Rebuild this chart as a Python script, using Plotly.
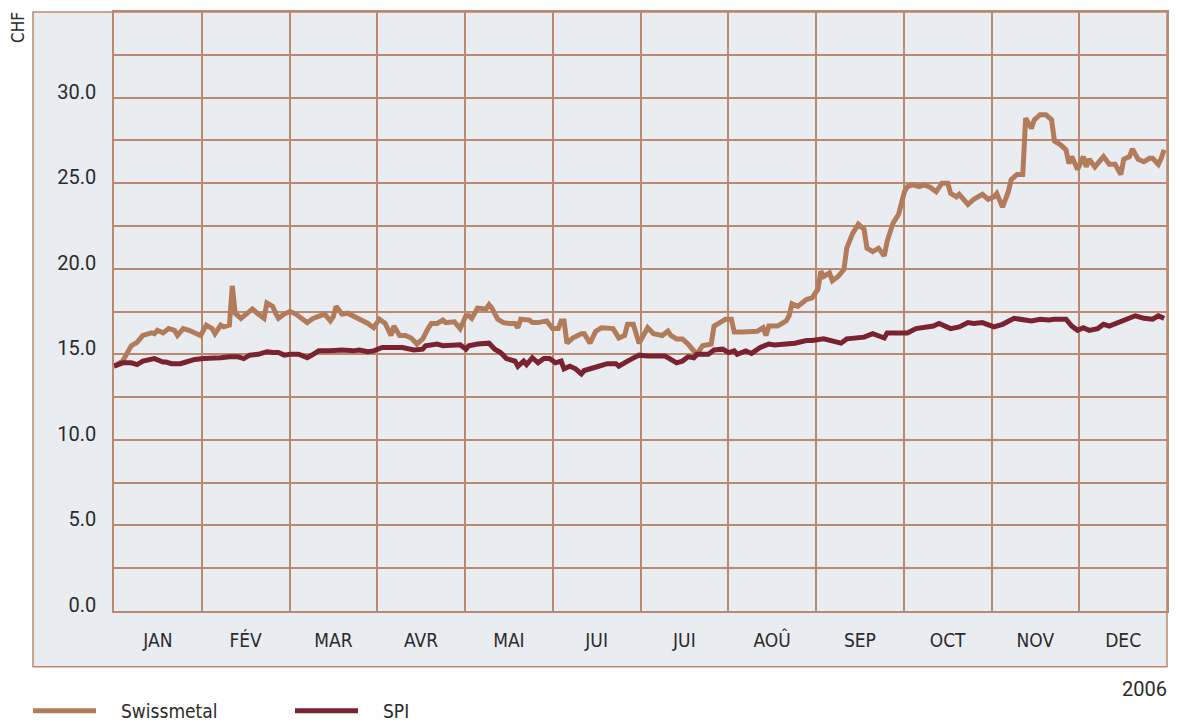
import plotly.graph_objects as go

# ---- data (day offset from 1 Jan 2006, value in CHF) ----
swiss_days = [0, 3, 5, 6, 8, 10, 13, 14, 15, 17, 19, 21, 22, 24, 26, 30, 32, 34, 35, 37, 38, 40, 41, 42, 44, 46,
              48, 50, 52, 53, 55, 56, 57, 59, 61, 63, 65, 67, 69, 71, 73, 75, 76, 77, 79, 81, 83, 85, 86, 88, 90,
              92, 94, 96, 97, 99, 101, 103, 105, 107, 109, 110, 112, 114, 115, 117, 118, 120, 122, 123, 124, 126,
              128, 129, 130, 131, 133, 135, 137, 139, 140, 141, 144, 145, 147, 149, 150, 152, 154, 155, 156, 157,
              159, 162, 163, 165, 167, 169, 171, 173, 175, 177, 178, 180, 182, 183, 185, 187, 189, 190, 192, 193,
              195, 197, 199, 200, 202, 204, 206, 207, 208, 210, 212, 214, 215, 218, 221, 223, 225, 226, 227, 230,
              233, 234, 235, 237, 240, 242, 244, 245, 246, 248, 249, 251, 253, 254, 256, 258, 260, 261, 263, 265,
              267, 268, 270, 272, 274, 275, 277, 279, 281, 283, 285, 286, 287, 289, 290, 292, 293, 295, 296, 298,
              300, 301, 303, 305, 306, 308, 310, 311, 313, 315, 316, 318, 319, 321, 323, 325, 326, 328, 330, 331,
              332, 334, 336, 337, 338, 340, 343, 345, 347, 349, 350, 352, 353, 355, 357, 359, 360, 362, 363, 364]
swiss_vals = [14.3, 14.6, 15.2, 15.5, 15.7, 16.1, 16.25, 16.2, 16.4, 16.25, 16.5, 16.4, 16.1, 16.5, 16.4, 16.1,
              16.7, 16.5, 16.2, 16.7, 16.6, 16.7, 19.0, 17.4, 17.1, 17.35, 17.65, 17.35, 17.1, 18.0, 17.8, 17.4,
              17.1, 17.35, 17.5, 17.35, 17.1, 16.85, 17.1, 17.2, 17.35, 16.95, 17.2, 17.8, 17.35, 17.4, 17.25,
              17.05, 17.0, 16.8, 16.55, 17.05, 16.8, 16.1, 16.65, 16.1, 16.1, 15.95, 15.6, 15.9, 16.55, 16.8, 16.8,
              17.0, 16.85, 16.85, 16.9, 16.5, 17.25, 17.25, 17.1, 17.7, 17.65, 17.65, 17.9, 17.7, 17.05, 16.85,
              16.8, 16.8, 16.55, 17.05, 17.0, 16.85, 16.85, 16.95, 16.95, 16.5, 16.5, 16.95, 16.95, 15.65, 15.95,
              16.2, 16.2, 15.65, 16.35, 16.55, 16.5, 16.5, 15.95, 16.1, 16.75, 16.75, 15.65, 15.95, 16.55, 16.2,
              16.1, 16.1, 16.35, 16.1, 15.9, 15.9, 15.6, 15.4, 15.0, 15.5, 15.6, 15.6, 16.65, 16.85, 17.05, 17.05,
              16.3, 16.3, 16.3, 16.35, 16.55, 16.1, 16.65, 16.65, 16.95, 17.25, 17.95, 17.8, 18.2, 18.3, 18.8,
              19.85, 19.55, 19.75, 19.3, 19.55, 19.95, 21.2, 22.05, 22.6, 22.3, 21.2, 21.0, 21.2, 20.75, 21.6,
              22.65, 23.2, 24.5, 24.8, 24.9, 24.8, 24.9, 24.75, 24.5, 24.7, 25.0, 25.0, 24.4, 24.2, 24.35, 23.95,
              23.75, 24.05, 24.2, 24.35, 24.05, 24.2, 24.4, 23.6, 24.5, 25.2, 25.5, 25.5, 28.8, 28.2, 28.7, 29.0,
              29.0, 28.7, 27.45, 27.25, 26.95, 26.15, 26.55, 25.8, 26.55, 25.95, 26.4, 25.95, 26.55, 26.1, 26.1,
              25.5, 26.4, 26.55, 27.0, 26.4, 26.25, 26.45, 26.45, 26.1, 26.45, 26.95]

spi_days = [0, 3, 6, 8, 10, 14, 17, 18, 20, 23, 25, 28, 31, 33, 37, 40, 43, 45, 47, 50, 53, 55, 57, 59, 61, 64,
            67, 69, 71, 75, 79, 83, 85, 88, 90, 93, 97, 100, 104, 107, 108, 112, 114, 117, 120, 122, 123, 126,
            128, 130, 132, 134, 136, 138, 139, 140, 142, 143, 145, 147, 149, 151, 153, 155, 156, 158, 160, 162,
            163, 166, 168, 171, 174, 175, 178, 180, 182, 185, 188, 191, 193, 195, 197, 199, 201, 202, 206, 208,
            211, 213, 215, 216, 219, 221, 224, 227, 229, 233, 236, 240, 242, 246, 249, 252, 254, 258, 260, 263,
            267, 268, 271, 275, 278, 281, 284, 286, 290, 293, 296, 298, 301, 305, 308, 312, 315, 318, 321, 324,
            326, 330, 332, 334, 336, 338, 341, 343, 345, 348, 351, 354, 357, 360, 362, 364]
spi_vals = [14.3, 14.5, 14.5, 14.4, 14.6, 14.75, 14.55, 14.55, 14.45, 14.45, 14.55, 14.7, 14.75, 14.75, 14.8,
            14.85, 14.85, 14.75, 14.95, 15.0, 15.15, 15.1, 15.1, 14.95, 15.0, 15.0, 14.8, 15.0, 15.2, 15.2, 15.25,
            15.2, 15.25, 15.15, 15.2, 15.4, 15.4, 15.4, 15.25, 15.3, 15.5, 15.6, 15.5, 15.55, 15.55, 15.3, 15.5,
            15.6, 15.65, 15.65, 15.3, 15.1, 14.75, 14.6, 14.6, 14.3, 14.6, 14.4, 14.8, 14.5, 14.75, 14.75, 14.5,
            14.6, 14.15, 14.3, 14.15, 13.85, 14.05, 14.2, 14.3, 14.45, 14.45, 14.3, 14.6, 14.8, 14.95, 14.9, 14.9,
            14.9, 14.7, 14.5, 14.6, 14.85, 14.8, 15.0, 15.0, 15.25, 15.3, 15.1, 15.2, 15.0, 15.2, 15.05, 15.4,
            15.6, 15.55, 15.6, 15.65, 15.8, 15.8, 15.9, 15.8, 15.65, 15.9, 15.95, 16.0, 16.2, 15.95, 16.25, 16.25,
            16.25, 16.5, 16.55, 16.65, 16.8, 16.5, 16.6, 16.85, 16.8, 16.85, 16.6, 16.75, 17.1, 17.0, 16.95,
            17.05, 17.0, 17.05, 17.05, 16.65, 16.4, 16.55, 16.4, 16.5, 16.75, 16.65, 16.85, 17.1, 17.25, 17.1,
            17.05, 17.25, 17.1]

month_labels = ["JAN", "FÉV", "MAR", "AVR", "MAI", "JUI", "JUI", "AOÛ", "SEP", "OCT", "NOV", "DEC"]
y_ticks = [0, 5, 10, 15, 20, 25, 30]
y_minor = [2.5, 7.5, 12.5, 17.5, 22.5, 27.5, 32.5]
series_names = ["Swissmetal", "SPI"]
year_label = "2006"
unit_label = "CHF"
YEAR_DAYS = 365

# ---- style ----
BG = "#e9ecf1"
GRID = "#ba8a70"
C_SWISS = "#b27c5b"
C_SPI = "#7b2230"
TXT = "#2b2b2b"
NARROW = "Liberation Sans Narrow, Arial Narrow, DejaVu Sans Condensed, Roboto, sans-serif"
NUMF = "Roboto, Liberation Sans, sans-serif"

# the chart divides the year into 12 equal month slots
slot = YEAR_DAYS / 12
month_mid = [(i + 0.5) * slot for i in range(12)]

fig = go.Figure()
fig.add_trace(go.Scatter(x=swiss_days, y=swiss_vals, mode="lines", name=series_names[0],
                         line=dict(color=C_SWISS, width=5), showlegend=False))
fig.add_trace(go.Scatter(x=spi_days, y=spi_vals, mode="lines", name=series_names[1],
                         line=dict(color=C_SPI, width=5), showlegend=False))

# page body has an 8px margin: work in window pixels, convert to figure pixels
OFF = 8
W, H = 1181 - OFF, 722 - OFF
L, R, T, B = 114 - OFF, 1167 - OFF, 10 - OFF, 611 - OFF
pw, ph = R - L, B - T


def px(x):
    return (x - OFF - L) / pw


def py(y):
    return (B - (y - OFF)) / ph


fig.update_layout(
    width=W, height=H,
    margin=dict(l=L, r=W - R, t=T, b=H - B),
    paper_bgcolor="white",
    plot_bgcolor="rgba(0,0,0,0)",
    showlegend=False,
    xaxis=dict(
        range=[0, YEAR_DAYS],
        tickmode="array", tickvals=month_mid, ticktext=month_labels,
        showgrid=False, ticks="", zeroline=False,
        showline=True, linecolor=GRID, linewidth=1.5, mirror=True,
        tickfont=dict(family=NARROW, size=19, color=TXT),
        ticklabelstandoff=11,
        minor=dict(tickmode="linear", tick0=0, dtick=slot, showgrid=True,
                   gridcolor=GRID, gridwidth=1.5, ticks=""),
    ),
    yaxis=dict(
        range=[0, 35],
        tickmode="array", tickvals=y_ticks, ticktext=[f"{v:.1f}" for v in y_ticks],
        showgrid=True, gridcolor=GRID, gridwidth=1.5, ticks="", zeroline=False,
        showline=True, linecolor=GRID, linewidth=1.5, mirror=True,
        tickfont=dict(family=NUMF, size=20, color=TXT),
        ticklabelstandoff=12, ticklabelshift=-6,
        minor=dict(tickmode="array", tickvals=y_minor, showgrid=True,
                   gridcolor=GRID, gridwidth=1.5, ticks=""),
    ),
)

# frame background
fig.add_shape(type="rect", xref="paper", yref="paper",
              x0=px(33), x1=1, y0=py(667), y1=1,
              fillcolor=BG, line=dict(color=GRID, width=1.5), layer="below")

# legend (custom)
fig.add_shape(type="line", xref="paper", yref="paper", x0=px(33), x1=px(96), y0=py(711), y1=py(711),
              line=dict(color=C_SWISS, width=5))
fig.add_shape(type="line", xref="paper", yref="paper", x0=px(295), x1=px(358), y0=py(711), y1=py(711),
              line=dict(color=C_SPI, width=5))
fig.add_annotation(xref="paper", yref="paper", x=px(119), y=py(711), text=series_names[0],
                   showarrow=False, xanchor="left", yanchor="middle",
                   font=dict(family=NARROW, size=19, color=TXT))
fig.add_annotation(xref="paper", yref="paper", x=px(381), y=py(711), text=series_names[1],
                   showarrow=False, xanchor="left", yanchor="middle",
                   font=dict(family=NARROW, size=19, color=TXT))
fig.add_annotation(xref="paper", yref="paper", x=1, y=py(689), text=year_label,
                   showarrow=False, xanchor="right", yanchor="middle", xshift=2,
                   font=dict(family=NUMF, size=20, color=TXT))
fig.add_annotation(xref="paper", yref="paper", x=px(18), y=py(26), text=unit_label,
                   showarrow=False, textangle=-90, xanchor="center", yanchor="middle",
                   font=dict(family=NARROW, size=17, color=TXT))

fig.write_html("out.html")
